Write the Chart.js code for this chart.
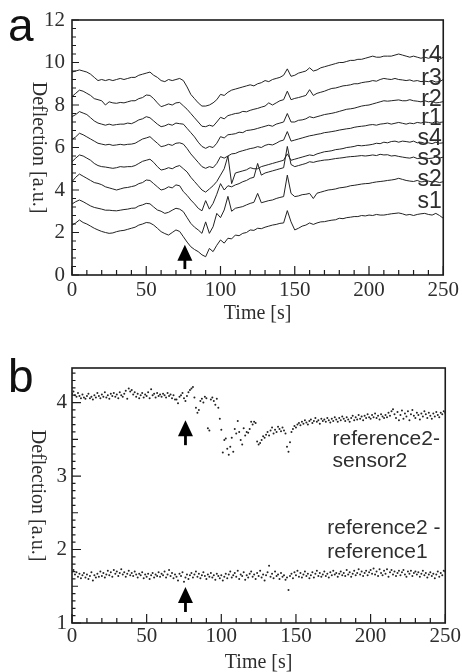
<!DOCTYPE html>
<html>
<head>
<meta charset="utf-8">
<script src="https://cdn.jsdelivr.net/npm/chart.js@4.4.1/dist/chart.umd.min.js"></script>
<style>
  html, body { margin: 0; padding: 0; background: #fff; }
  #wrap { position: relative; width: 462px; height: 672px; overflow: hidden; }
  canvas { position: absolute; left: 0; }
</style>
</head>
<body>
<div id="wrap">
  <canvas id="chartA" width="462" height="330" style="top:0"></canvas>
  <canvas id="chartB" width="462" height="342" style="top:330px"></canvas>
</div>
<script>
// ---- panel a data (time in s, deflection in a.u.) ----
const timeA = [0,2.5,5,7.5,10,12.5,15,17.5,20,22.5,25,27.5,30,32.5,35,37.5,40,42.5,45,47.5,
  50,52.5,55,57.5,60,62.5,65,67.5,70,72.5,75,77.5,80,82.5,85,87.5,90,92.5,95,97.5,
  100,102.5,105,107.5,110,112.5,115,117.5,120,122.5,125,127.5,130,132.5,135,137.5,140,142.5,145,147.5,
  150,152.5,155,157.5,160,162.5,165,167.5,170,172.5,175,177.5,180,182.5,185,187.5,190,192.5,195,197.5,
  200,202.5,205,207.5,210,212.5,215,217.5,220,222.5,225,227.5,230,232.5,235,237.5,240,242.5,245,247.5,250];

const r4 = [9.55,9.6,9.65,9.6,9.55,9.45,9.3,9.15,9.2,9.15,
  9.2,9.15,9.2,9.25,9.2,9.25,9.3,9.3,9.4,9.45,
  9.5,9.55,9.4,9.3,9.15,9.1,9.2,9.15,9.2,9.25,
  9.15,8.85,8.5,8.3,8.1,7.95,7.95,8.0,8.1,8.25,
  8.5,8.45,8.6,8.7,8.75,8.8,8.85,8.9,8.95,8.9,
  9.0,9.05,9.15,9.1,9.2,9.25,9.3,9.4,9.7,9.35,
  9.4,9.5,9.55,9.6,9.75,9.6,9.65,9.75,9.8,9.85,
  9.9,9.95,10.0,10.0,10.05,10.1,10.1,10.15,10.15,10.2,
  10.25,10.3,10.25,10.25,10.3,10.3,10.3,10.35,10.4,10.35,
  10.3,10.25,10.3,10.25,10.2,10.25,10.2,10.25,10.2,10.15,10.25];
const r3 = [8.4,8.55,8.7,8.65,8.55,8.45,8.3,8.25,8.2,8.0,
  8.15,8.1,8.08,8.12,8.1,8.15,8.2,8.2,8.3,8.35,
  8.47,8.45,8.3,8.1,7.92,7.98,8.05,8.0,8.1,8.12,
  7.96,7.8,7.6,7.4,7.2,7.0,6.98,7.05,7.0,7.2,
  7.42,7.35,7.5,7.55,7.6,7.62,7.7,7.68,7.75,7.8,
  7.84,7.9,7.95,8.1,8.0,8.1,8.2,8.25,8.65,8.25,
  8.31,8.35,8.4,8.45,8.72,8.45,8.55,8.6,8.65,8.72,
  8.78,8.8,8.85,8.9,8.92,8.95,9.0,9.0,9.05,9.08,
  9.1,9.15,9.12,9.2,9.25,9.22,9.2,9.25,9.2,9.18,
  9.15,9.18,9.12,9.15,9.1,9.12,9.1,9.15,9.08,9.1,9.2];
const r2 = [7.45,7.55,7.69,7.62,7.55,7.4,7.25,7.15,7.1,7.05,
  7.1,7.05,7.08,7.1,7.1,7.15,7.12,7.2,7.3,7.35,
  7.45,7.4,7.25,7.1,6.98,7.02,7.1,7.05,7.15,7.12,
  7.1,6.9,6.7,6.5,6.25,6.05,5.96,6.05,6.0,6.2,
  6.51,6.45,6.6,6.62,6.65,6.72,6.7,6.8,6.82,6.85,
  6.9,6.95,7.0,7.05,7.0,7.1,7.15,7.2,7.6,7.2,
  7.2,7.28,7.3,7.35,7.45,7.4,7.45,7.5,7.55,7.58,
  7.61,7.65,7.7,7.75,7.8,7.82,7.85,7.9,7.95,7.98,
  8.0,8.05,8.1,8.15,8.2,8.18,8.2,8.22,8.24,8.2,
  8.2,8.25,8.2,8.18,8.15,8.2,8.15,8.18,8.1,8.12,8.16];
const r1 = [6.38,6.5,6.67,6.6,6.5,6.4,6.3,6.2,6.16,6.12,
  6.15,6.1,6.12,6.15,6.12,6.15,6.16,6.2,6.3,6.4,
  6.45,6.51,6.35,6.2,6.04,6.08,6.15,6.1,6.2,6.22,
  6.16,5.95,5.7,5.5,5.3,5.1,5.02,5.1,5.05,5.25,
  5.57,5.5,5.6,5.7,5.72,5.8,5.85,5.9,5.95,5.98,
  6.04,6.0,6.1,6.15,6.12,6.2,6.3,6.35,6.75,6.3,
  6.35,6.4,6.45,6.5,6.55,6.58,6.62,6.65,6.7,6.72,
  6.75,6.78,6.82,6.85,6.88,6.9,6.95,6.98,7.0,7.02,
  7.06,7.08,7.05,7.1,7.12,7.15,7.1,7.14,7.18,7.14,
  7.1,7.15,7.12,7.18,7.15,7.2,7.18,7.15,7.22,7.18,7.2];
const s4 = [5.33,5.5,5.65,5.6,5.5,5.4,5.25,5.15,5.1,5.08,
  5.05,5.02,5.05,5.1,5.08,5.1,5.1,5.15,5.25,5.35,
  5.4,5.45,5.3,5.1,4.94,4.98,5.05,5.0,5.1,5.15,
  5.0,4.85,4.6,4.4,4.2,4.0,3.9,4.05,4.2,4.4,
  4.7,5.0,5.6,4.3,4.8,4.85,4.9,4.95,5.05,5.0,
  5.0,5.1,5.15,5.2,5.25,5.3,5.35,5.4,5.7,5.4,
  5.45,5.5,5.55,5.6,5.65,5.62,5.7,5.75,5.8,5.82,
  5.85,5.9,5.92,5.95,6.0,6.02,6.05,6.1,6.08,6.1,
  6.12,6.15,6.2,6.18,6.25,6.22,6.28,6.3,6.25,6.3,
  6.28,6.25,6.3,6.22,6.25,6.2,6.22,6.18,6.25,6.2,6.22];
const s3 = [4.39,4.6,4.75,4.65,4.55,4.45,4.35,4.31,4.25,4.15,
  4.1,4.05,4.0,4.05,4.1,4.12,4.16,4.2,4.3,4.35,
  4.47,4.45,4.3,4.15,4.0,4.05,4.15,4.1,4.24,4.2,
  3.92,3.75,3.53,3.35,3.14,3.02,3.5,3.1,3.37,3.8,
  4.3,4.0,4.2,4.15,4.24,4.3,4.39,4.45,4.55,4.6,
  5.25,4.7,4.8,4.85,4.9,4.95,5.0,5.05,6.05,5.2,
  5.1,5.15,5.2,5.25,5.33,5.3,5.35,5.38,5.41,5.42,
  5.45,5.48,5.5,5.52,5.55,5.57,5.58,5.6,5.62,5.6,
  5.62,5.65,5.62,5.68,5.65,5.66,5.6,5.62,5.58,5.55,
  5.52,5.5,5.55,5.48,5.5,5.52,5.48,5.5,5.55,5.5,5.55];
const s2 = [3.34,3.45,3.53,3.45,3.35,3.25,3.18,3.14,3.1,3.05,
  3.05,3.03,3.02,3.05,3.08,3.1,3.14,3.15,3.25,3.3,
  3.37,3.35,3.2,3.06,3.0,2.9,2.95,3.05,3.14,3.1,
  2.98,2.7,2.43,2.25,2.12,1.96,2.5,1.96,2.27,2.9,
  2.7,3.06,3.7,3.0,3.14,3.18,3.22,3.3,3.37,3.42,
  3.84,3.4,3.45,3.5,3.53,3.6,3.65,3.69,4.7,3.84,
  3.69,3.72,3.78,3.8,3.84,3.6,3.85,3.9,3.95,4.0,
  4.02,4.05,4.1,4.12,4.15,4.2,4.22,4.25,4.28,4.3,
  4.31,4.35,4.38,4.4,4.42,4.45,4.47,4.5,4.55,4.5,
  4.45,4.42,4.4,4.45,4.38,4.4,4.42,4.38,4.4,4.35,4.39];
const s1 = [2.35,2.45,2.59,2.47,2.4,2.3,2.2,2.12,2.05,2.0,
  1.96,1.98,2.04,2.08,2.1,2.15,2.2,2.25,2.35,2.4,
  2.47,2.45,2.35,2.2,2.04,1.95,1.88,2.0,2.12,2.05,
  1.8,1.55,1.33,1.2,1.1,0.95,0.86,1.25,1.1,1.4,
  1.65,1.5,1.73,1.7,1.88,1.85,1.96,2.0,2.12,2.1,
  2.2,2.18,2.25,2.3,2.35,2.38,2.43,2.45,3.03,2.5,
  2.12,2.2,2.3,2.35,2.45,2.38,2.45,2.5,2.51,2.55,
  2.58,2.6,2.67,2.65,2.7,2.72,2.75,2.75,2.8,2.78,
  2.82,2.8,2.85,2.82,2.82,2.85,2.88,2.9,2.92,2.88,
  2.82,2.85,2.8,2.85,2.88,2.9,2.85,2.82,2.9,2.8,2.67];

const namesA = ['s1', 's2', 's3', 's4', 'r1', 'r2', 'r3', 'r4'];
const seriesA = [s1, s2, s3, s4, r1, r2, r3, r4];

// ---- panel b data ----
const timeB = [0,1,2,3,4,5,6,7,8,9,10,11,12,13,14,15,16,17,18,19,20,21,22,23,24,25,26,27,28,29,
  30,31,32,33,34,35,36,37,38,39,40,41,42,43,44,45,46,47,48,49,50,51,52,53,54,55,56,57,58,59,
  60,61,62,63,64,65,66,67,68,69,70,71,72,73,74,75,76,77,78,79,80,81,82,83,84,85,86,87,88,89,
  90,91,92,93,94,95,96,97,98,99,100,101,102,103,104,105,106,107,108,109,110,111,112,113,114,115,116,117,118,119,
  120,121,122,123,124,125,126,127,128,129,130,131,132,133,134,135,136,137,138,139,140,141,142,143,144,145,146,147,148,149,
  150,151,152,153,154,155,156,157,158,159,160,161,162,163,164,165,166,167,168,169,170,171,172,173,174,175,176,177,178,179,
  180,181,182,183,184,185,186,187,188,189,190,191,192,193,194,195,196,197,198,199,200,201,202,203,204,205,206,207,208,209,
  210,211,212,213,214,215,216,217,218,219,220,221,222,223,224,225,226,227,228,229,230,231,232,233,234,235,236,237,238,239,
  240,241,242,243,244,245,246,247,248,249,250];

const ref2Sensor2 = [4.12,4.15,4.10,4.08,4.13,4.09,4.06,4.11,4.07,4.05,
  4.09,4.12,4.06,4.08,4.04,4.10,4.07,4.13,4.09,4.06,
  4.11,4.08,4.14,4.07,4.10,4.05,4.12,4.09,4.13,4.08,
  4.11,4.06,4.14,4.10,4.08,4.12,4.16,4.05,4.19,4.15,
  4.17,4.11,4.14,4.08,4.12,4.06,4.10,4.13,4.07,4.11,
  4.09,4.14,4.06,4.18,4.10,4.12,4.07,4.13,4.09,4.11,
  4.08,4.12,4.10,4.07,4.13,4.09,4.11,4.06,4.10,4.04,
  4.04,3.99,4.08,4.10,4.13,4.06,4.02,4.09,4.14,4.17,
  4.19,4.21,4.07,3.93,3.86,3.90,4.02,4.05,4.00,4.08,
  4.06,3.65,3.62,4.04,4.07,4.02,3.97,4.05,3.93,3.78,
  3.63,3.32,3.49,3.51,3.37,3.29,3.40,3.52,3.33,3.64,
  3.58,3.75,3.60,3.49,3.43,3.65,3.55,3.60,3.59,3.64,
  3.74,3.70,3.74,3.72,3.47,3.43,3.45,3.49,3.54,3.52,
  3.56,3.60,3.55,3.62,3.66,3.58,3.63,3.60,3.67,3.64,
  3.61,3.66,3.62,3.58,3.40,3.33,3.46,3.60,3.64,3.68,
  3.66,3.70,3.72,3.69,3.74,3.71,3.76,3.73,3.70,3.75,
  3.77,3.72,3.75,3.79,3.74,3.76,3.71,3.78,3.75,3.77,
  3.74,3.79,3.76,3.73,3.78,3.75,3.80,3.77,3.74,3.79,
  3.76,3.81,3.78,3.75,3.80,3.77,3.74,3.79,3.82,3.76,
  3.80,3.77,3.83,3.78,3.81,3.76,3.82,3.79,3.84,3.80,
  3.78,3.83,3.80,3.85,3.79,3.82,3.77,3.84,3.81,3.79,
  3.83,3.80,3.86,3.82,3.88,3.91,3.84,3.79,3.87,3.76,
  3.83,3.89,3.78,3.85,3.81,3.88,3.76,3.84,3.90,3.82,
  3.79,3.86,3.83,3.77,3.85,3.81,3.88,3.84,3.79,3.86,
  3.82,3.78,3.85,3.81,3.87,3.83,3.80,3.86,3.84,3.88,
  3.86];
const ref2Ref1 = [1.70,1.72,1.66,1.69,1.63,1.67,1.61,1.65,1.68,1.62,
  1.66,1.60,1.64,1.69,1.58,1.65,1.62,1.67,1.63,1.70,
  1.64,1.68,1.62,1.66,1.71,1.65,1.69,1.63,1.72,1.67,
  1.70,1.64,1.68,1.73,1.66,1.69,1.63,1.67,1.71,1.65,
  1.68,1.64,1.70,1.66,1.62,1.67,1.65,1.69,1.61,1.66,
  1.63,1.67,1.60,1.65,1.68,1.62,1.66,1.64,1.69,1.63,
  1.67,1.65,1.70,1.62,1.66,1.72,1.64,1.68,1.61,1.66,
  1.63,1.58,1.67,1.64,1.69,1.56,1.62,1.66,1.60,1.65,
  1.68,1.62,1.66,1.70,1.63,1.67,1.61,1.65,1.69,1.64,
  1.60,1.66,1.63,1.68,1.62,1.65,1.59,1.67,1.64,1.61,
  1.65,1.58,1.63,1.67,1.61,1.66,1.70,1.62,1.65,1.68,
  1.63,1.71,1.60,1.66,1.64,1.69,1.59,1.65,1.62,1.67,
  1.70,1.63,1.66,1.60,1.68,1.64,1.71,1.62,1.66,1.58,
  1.65,1.69,1.78,1.63,1.67,1.61,1.70,1.64,1.66,1.60,
  1.68,1.63,1.65,1.59,1.62,1.45,1.64,1.67,1.61,1.69,
  1.65,1.71,1.63,1.68,1.62,1.66,1.70,1.64,1.67,1.61,
  1.65,1.69,1.62,1.67,1.71,1.64,1.68,1.63,1.66,1.70,
  1.64,1.67,1.62,1.69,1.65,1.71,1.66,1.68,1.63,1.67,
  1.70,1.65,1.68,1.64,1.72,1.66,1.69,1.63,1.67,1.71,
  1.65,1.68,1.73,1.66,1.70,1.64,1.68,1.71,1.65,1.69,
  1.72,1.67,1.74,1.66,1.70,1.64,1.73,1.68,1.65,1.71,
  1.67,1.73,1.63,1.69,1.72,1.66,1.70,1.64,1.68,1.71,
  1.65,1.69,1.72,1.66,1.63,1.70,1.67,1.71,1.64,1.68,
  1.70,1.66,1.69,1.63,1.67,1.71,1.65,1.68,1.62,1.66,
  1.69,1.64,1.67,1.61,1.66,1.70,1.63,1.68,1.65,1.71,
  1.70];

// tick labels
const xTickLabels = [0, 50, 100, 150, 200, 250];
const yTickLabelsA = [0, 2, 4, 6, 8, 10, 12];
const yTickLabelsB = [1, 2, 3, 4];

const INK = '#1c1c1c';
const TEXT = '#2e2e2e';
const SERIF = '"Liberation Serif", "Times New Roman", serif';
const SANS = '"Liberation Sans", Arial, sans-serif';

function toPoints(times, values) {
  return times.map((t, i) => ({ x: t, y: values[i] }));
}

function xAxis(height, pad) {
  return {
    type: 'linear', min: 0, max: 250,
    grid: { display: false, drawTicks: false },
    border: { display: false },
    ticks: { font: { family: SERIF, size: 21 }, color: TEXT, padding: pad, maxRotation: 0, autoSkip: false },
    afterBuildTicks: s => { s.ticks = xTickLabels.map(v => ({ value: v })); },
    afterFit: s => { s.height = height; }
  };
}

function yAxis(min, max, labels, pad) {
  return {
    type: 'linear', min: min, max: max,
    grid: { display: false, drawTicks: false },
    border: { display: false },
    ticks: { font: { family: SERIF, size: 21 }, color: TEXT, padding: pad, autoSkip: false },
    afterBuildTicks: s => { s.ticks = labels.map(v => ({ value: v })); },
    afterFit: s => { s.width = 72; }
  };
}

function drawArrow(ctx, x, tip, end) {
  ctx.fillStyle = '#000';
  ctx.beginPath();
  ctx.moveTo(x, tip);
  ctx.lineTo(x - 7.5, tip + 16);
  ctx.lineTo(x + 7.5, tip + 16);
  ctx.closePath();
  ctx.fill();
  ctx.fillRect(x - 1.4, tip + 14, 2.8, end - tip - 14);
}

// frame, inward ticks, titles and annotations
function decor(cfg) {
  return {
    id: 'decor',
    afterDraw(chart) {
      const { ctx, chartArea: a } = chart;
      const xs = chart.scales.x, ys = chart.scales.y;
      ctx.save();
      ctx.strokeStyle = INK;
      ctx.lineWidth = 1.6;
      ctx.strokeRect(a.left, a.top, a.right - a.left, a.bottom - a.top);

      ctx.lineWidth = 1.2;
      ctx.beginPath();
      for (let k = 0; k <= 25; k++) {
        const px = xs.getPixelForValue(k * 10);
        ctx.moveTo(px, a.bottom);
        ctx.lineTo(px, a.bottom - (k % 5 === 0 ? 9 : 5));
      }
      cfg.yTicks.forEach(([v, len]) => {
        const py = ys.getPixelForValue(v);
        ctx.moveTo(a.left, py);
        ctx.lineTo(a.left + len, py);
      });
      ctx.stroke();

      // axis titles
      ctx.fillStyle = TEXT;
      ctx.font = '20px ' + SERIF;
      ctx.textAlign = 'center';
      ctx.textBaseline = 'alphabetic';
      ctx.fillText('Time [s]', (a.left + a.right) / 2, cfg.xTitleY);
      ctx.save();
      ctx.translate(cfg.yTitleX, (a.top + a.bottom) / 2);
      ctx.rotate(Math.PI / 2);
      ctx.textBaseline = 'middle';
      ctx.fillText('Deflection [a.u.]', 0, 0);
      ctx.restore();

      // panel letter
      ctx.fillStyle = '#111';
      ctx.font = '46px ' + SANS;
      ctx.textAlign = 'left';
      ctx.fillText(cfg.letter, 8, cfg.letterY);

      // curve labels
      ctx.fillStyle = TEXT;
      cfg.notes.forEach(n => {
        ctx.font = n.size + 'px ' + SANS;
        ctx.textAlign = n.align;
        ctx.fillText(n.text, xs.getPixelForValue(n.x), ys.getPixelForValue(n.y));
      });

      cfg.arrows.forEach(ar => {
        drawArrow(ctx, xs.getPixelForValue(ar.x), ys.getPixelForValue(ar.tip), ys.getPixelForValue(ar.end));
      });
      ctx.restore();
    }
  };
}

// ---- panel a ----
const yTicksA = [];
for (let k = 0; k <= 30; k++) yTicksA.push([k * 0.4, k % 5 === 0 ? 7 : 4]);
const labelPosA = [3.15, 4.19, 5.18, 6.12, 7.06, 7.95, 8.94, 10.04];

new Chart(document.getElementById('chartA'), {
  type: 'line',
  data: {
    datasets: seriesA.map((vals, i) => ({
      label: namesA[i],
      data: toPoints(timeA, vals),
      borderColor: '#222',
      borderWidth: 1.0,
      pointRadius: 0,
      tension: 0,
      fill: false
    }))
  },
  options: {
    responsive: false,
    animation: false,
    layout: { padding: { top: 20, right: 16, left: 0, bottom: 0 } },
    plugins: { legend: { display: false }, tooltip: { enabled: false } },
    scales: { x: xAxis(55, 3), y: yAxis(0, 12, yTickLabelsA, 7) }
  },
  plugins: [decor({
    yTicks: yTicksA,
    xTitleY: 319,
    yTitleX: 38,
    letter: 'a',
    letterY: 41,
    notes: namesA.map((n, i) => ({ text: n, x: 249, y: labelPosA[i], size: 23, align: 'right' })),
    arrows: [{ x: 76, tip: 1.42, end: 0.28 }]
  })]
});

// ---- panel b ----
const yTicksB = [];
for (let k = 10; k <= 44; k++) yTicksB.push([k / 10, k % 10 === 0 ? 9 : (k % 5 === 0 ? 6 : 3.5)]);

new Chart(document.getElementById('chartB'), {
  type: 'scatter',
  data: {
    datasets: [
      { label: 'reference2-sensor2', data: toPoints(timeB, ref2Sensor2) },
      { label: 'reference2-reference1', data: toPoints(timeB, ref2Ref1) }
    ].map(d => Object.assign(d, { pointRadius: 1.0, pointBackgroundColor: '#222', pointBorderWidth: 0 }))
  },
  options: {
    responsive: false,
    animation: false,
    layout: { padding: { top: 38, right: 16, left: 0, bottom: 0 } },
    plugins: { legend: { display: false }, tooltip: { enabled: false } },
    scales: { x: xAxis(49, 1), y: yAxis(1, 4.47, yTickLabelsB, 5) }
  },
  plugins: [decor({
    yTicks: yTicksB,
    xTitleY: 338,
    yTitleX: 37,
    letter: 'b',
    letterY: 62,
    notes: [
      { text: 'reference2-', x: 174.5, y: 3.42, size: 21, align: 'left' },
      { text: 'sensor2', x: 174.5, y: 3.12, size: 21, align: 'left' },
      { text: 'reference2 -', x: 171, y: 2.21, size: 21, align: 'left' },
      { text: 'reference1', x: 171, y: 1.88, size: 21, align: 'left' }
    ],
    arrows: [{ x: 76, tip: 3.76, end: 3.42 }, { x: 76, tip: 1.49, end: 1.15 }]
  })]
});
</script>
</body>
</html>
